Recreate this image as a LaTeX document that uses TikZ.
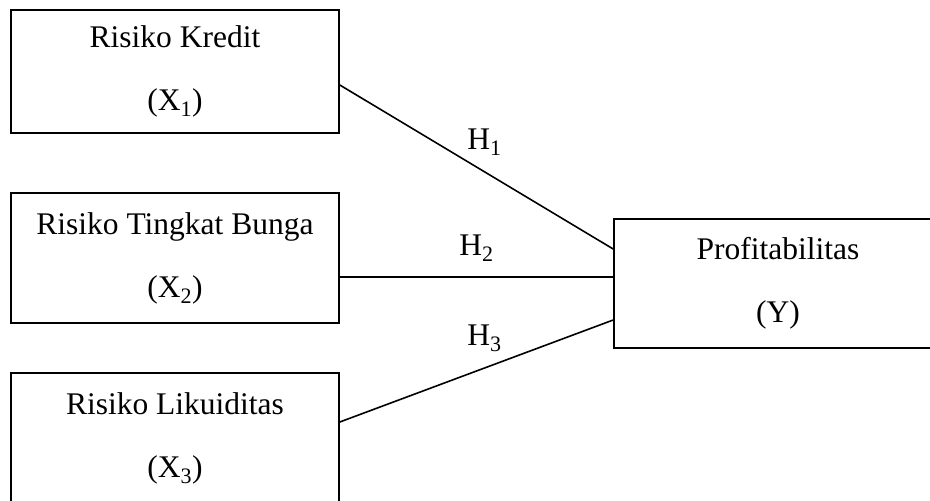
\documentclass[tikz,border=0pt]{standalone}
\usepackage{fontspec}
\setmainfont{Liberation Serif}
\begin{document}
\begin{tikzpicture}[x=1pt, y=1pt,
	varbox/.style = {draw, line width=1.6pt, minimum width=328pt, minimum height=130pt, inner sep=0pt, align=center, font=\fontsize{31.5}{63}\selectfont},
	hyp/.style = {font=\fontsize{31.5}{38}\selectfont}]
	\useasboundingbox (0,0) rectangle (930,-501);
	
	\node[varbox, minimum height=123pt](kredit) at (175,-71.5) {Risiko Kredit\\(X\textsubscript{1})};
	\node[varbox](bunga) at (175,-258) {Risiko Tingkat Bunga\\(X\textsubscript{2})};
	\node[varbox](likuid) at (175,-438) {Risiko Likuiditas\\(X\textsubscript{3})};
	\node[varbox, minimum height=129pt](profit) at (778,-283.5) {Profitabilitas\\(Y)};
	
	\draw[line width=1.6pt] ([yshift=-13.5pt]kredit.east) -- node[hyp, xshift=8pt, yshift=25pt]{H\textsubscript{1}} ([yshift=34.5pt]profit.west);
	\draw[line width=1.6pt] ([yshift=-19pt]bunga.east) -- node[hyp, yshift=29pt]{H\textsubscript{2}} ([yshift=6.5pt]profit.west);
	\draw[line width=1.6pt] ([yshift=16pt]likuid.east) -- node[hyp, xshift=8pt, yshift=33pt]{H\textsubscript{3}} ([yshift=-36.5pt]profit.west);
\end{tikzpicture}
\end{document}
